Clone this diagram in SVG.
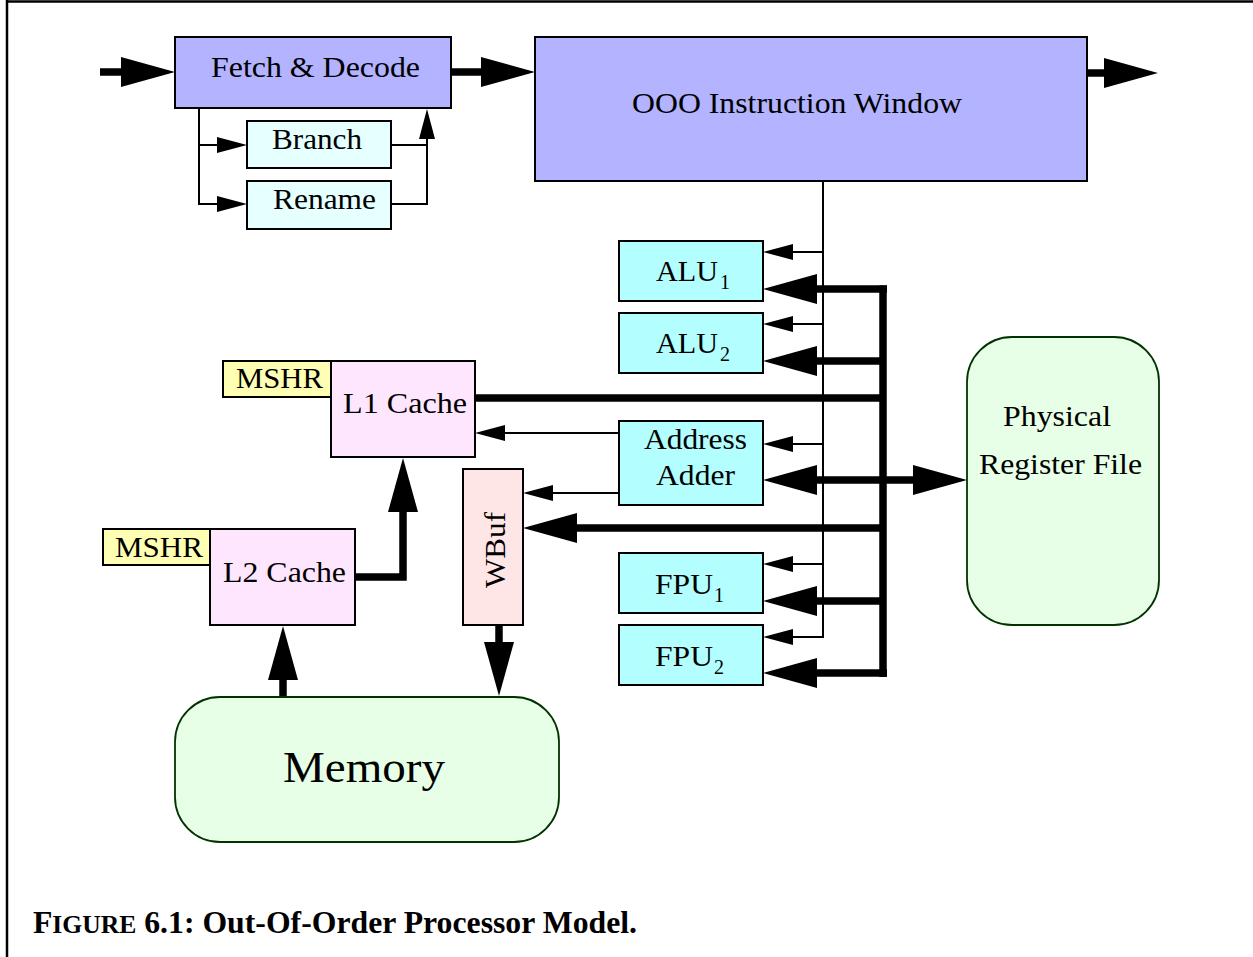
<svg xmlns="http://www.w3.org/2000/svg" xmlns:xlink="http://www.w3.org/1999/xlink" width="1253" height="957" viewBox="0 0 1253 957">
<style>
.box{stroke:#000;stroke-width:2}
.blue{fill:#b3b3ff}
.lcyan{fill:#e6ffff}
.cyan{fill:#b3ffff}
.yellow{fill:#ffffb3}
.pink{fill:#ffe6ff}
.rose{fill:#ffe6e6}
.green{fill:#e6ffe6;stroke:#003300;stroke-width:1.8}
.t{font-family:"Liberation Serif","Times New Roman",serif;font-size:29px;fill:#000}
.sub{font-family:"Liberation Serif","Times New Roman",serif;font-size:20px;fill:#000}
.thin{stroke:#000;stroke-width:2;fill:none}
.thick{stroke:#000;stroke-width:7.5;fill:none;stroke-linecap:butt;stroke-linejoin:miter}
.frame{stroke:#000;stroke-width:2.5;fill:none}
</style>
<defs>
<path id="hThin" d="M0,0 L-30,-8 L-30,8 Z" fill="#000"/>
<path id="hThick" d="M0,0 L-54,-15 L-54,15 Z" fill="#000"/>
</defs>
<rect width="1253" height="957" fill="#fff"/>
<g id="frame">
<line class="frame" x1="7" y1="0" x2="7" y2="957"/>
<line class="frame" x1="6" y1="1.5" x2="1253" y2="1.5"/>
</g>
<g id="connectors">
<line class="thick" x1="100" y1="72" x2="125" y2="72"/>
<use xlink:href="#hThick" transform="translate(175,72)"/>
<line class="thick" x1="451" y1="72" x2="485" y2="72"/>
<use xlink:href="#hThick" transform="translate(535,72)"/>
<line class="thick" x1="1087" y1="73" x2="1110" y2="73"/>
<use xlink:href="#hThick" transform="translate(1158,73)"/>
<polyline class="thin" points="199,108 199,204 220,204"/>
<line class="thin" x1="199" y1="145" x2="220" y2="145"/>
<use xlink:href="#hThin" transform="translate(247,145)"/>
<use xlink:href="#hThin" transform="translate(247,204)"/>
<line class="thin" x1="391" y1="145" x2="427" y2="145"/>
<polyline class="thin" points="391,204 427,204 427,135"/>
<use xlink:href="#hThin" transform="translate(427,109) rotate(-90)"/>
<line class="thin" x1="823" y1="181" x2="823" y2="638"/>
<line class="thin" x1="823" y1="252" x2="790" y2="252"/>
<use xlink:href="#hThin" transform="translate(763,252) rotate(180)"/>
<line class="thin" x1="823" y1="324" x2="790" y2="324"/>
<use xlink:href="#hThin" transform="translate(763,324) rotate(180)"/>
<line class="thin" x1="823" y1="444" x2="790" y2="444"/>
<use xlink:href="#hThin" transform="translate(763,444) rotate(180)"/>
<line class="thin" x1="823" y1="564" x2="790" y2="564"/>
<use xlink:href="#hThin" transform="translate(763,564) rotate(180)"/>
<line class="thin" x1="824" y1="637" x2="790" y2="637"/>
<use xlink:href="#hThin" transform="translate(763,637) rotate(180)"/>
<line class="thick" x1="883" y1="285.5" x2="883" y2="677"/>
<line class="thick" x1="887" y1="289" x2="815" y2="289"/>
<use xlink:href="#hThick" transform="translate(763,289) rotate(180)"/>
<line class="thick" x1="883" y1="361" x2="815" y2="361"/>
<use xlink:href="#hThick" transform="translate(763,361) rotate(180)"/>
<line class="thick" x1="475" y1="398" x2="883" y2="398"/>
<line class="thick" x1="815" y1="480" x2="915" y2="480"/>
<use xlink:href="#hThick" transform="translate(763,480) rotate(180)"/>
<use xlink:href="#hThick" transform="translate(967,480)"/>
<line class="thick" x1="883" y1="528" x2="575" y2="528"/>
<use xlink:href="#hThick" transform="translate(523,528) rotate(180)"/>
<line class="thick" x1="883" y1="601" x2="815" y2="601"/>
<use xlink:href="#hThick" transform="translate(763,601) rotate(180)"/>
<line class="thick" x1="887" y1="673" x2="815" y2="673"/>
<use xlink:href="#hThick" transform="translate(763,673) rotate(180)"/>
<line class="thin" x1="619" y1="433" x2="503" y2="433"/>
<use xlink:href="#hThin" transform="translate(475,433) rotate(180)"/>
<line class="thin" x1="619" y1="493" x2="551" y2="493"/>
<use xlink:href="#hThin" transform="translate(523,493) rotate(180)"/>
<line class="thick" x1="499" y1="625" x2="499" y2="647"/>
<use xlink:href="#hThick" transform="translate(499,696) rotate(90)"/>
<line class="thick" x1="283" y1="697" x2="283" y2="676"/>
<use xlink:href="#hThick" transform="translate(283,626) rotate(-90)"/>
<polyline class="thick" points="355,577 403,577 403,508"/>
<use xlink:href="#hThick" transform="translate(403,458) rotate(-90)"/>
</g>
<g id="fetch">
<rect class="box blue" x="175" y="37" width="276" height="71"/>
<text class="t" x="211" y="77" textLength="209" lengthAdjust="spacingAndGlyphs">Fetch &amp; Decode</text>
</g>
<g id="ooo">
<rect class="box blue" x="535" y="37" width="552" height="144"/>
<text class="t" x="632" y="113" textLength="330" lengthAdjust="spacingAndGlyphs">OOO Instruction Window</text>
</g>
<g id="branch">
<rect class="box lcyan" x="247" y="121" width="144" height="47"/>
<text class="t" x="272" y="149" textLength="90" lengthAdjust="spacingAndGlyphs">Branch</text>
</g>
<g id="rename">
<rect class="box lcyan" x="247" y="181" width="144" height="48"/>
<text class="t" x="273" y="209" textLength="103" lengthAdjust="spacingAndGlyphs">Rename</text>
</g>
<g id="alu1">
<rect class="box cyan" x="619" y="241" width="144" height="60"/>
<text class="t" x="656" y="281" textLength="62" lengthAdjust="spacingAndGlyphs">ALU</text>
<text class="sub" x="720" y="289">1</text>
</g>
<g id="alu2">
<rect class="box cyan" x="619" y="313" width="144" height="60"/>
<text class="t" x="656" y="353" textLength="62" lengthAdjust="spacingAndGlyphs">ALU</text>
<text class="sub" x="720" y="361">2</text>
</g>
<g id="addr">
<rect class="box cyan" x="619" y="421" width="144" height="84"/>
<text class="t" x="644" y="449" textLength="103" lengthAdjust="spacingAndGlyphs">Address</text>
<text class="t" x="656" y="485" textLength="79" lengthAdjust="spacingAndGlyphs">Adder</text>
</g>
<g id="fpu1">
<rect class="box cyan" x="619" y="553" width="144" height="60"/>
<text class="t" x="655" y="594" textLength="58" lengthAdjust="spacingAndGlyphs">FPU</text>
<text class="sub" x="714" y="602">1</text>
</g>
<g id="fpu2">
<rect class="box cyan" x="619" y="625" width="144" height="60"/>
<text class="t" x="655" y="666" textLength="58" lengthAdjust="spacingAndGlyphs">FPU</text>
<text class="sub" x="714" y="674">2</text>
</g>
<g id="l1">
<rect class="box yellow" x="223" y="361" width="108" height="36"/>
<text class="t" x="236" y="388" textLength="87" lengthAdjust="spacingAndGlyphs">MSHR</text>
<rect class="box pink" x="331" y="361" width="144" height="96"/>
<text class="t" x="343" y="413" textLength="124" lengthAdjust="spacingAndGlyphs">L1 Cache</text>
</g>
<g id="l2">
<rect class="box yellow" x="103" y="529" width="107" height="36"/>
<text class="t" x="115" y="557" textLength="88" lengthAdjust="spacingAndGlyphs">MSHR</text>
<rect class="box pink" x="210" y="529" width="145" height="96"/>
<text class="t" x="223" y="582" textLength="123" lengthAdjust="spacingAndGlyphs">L2 Cache</text>
</g>
<g id="wbuf">
<rect class="box rose" x="463" y="469" width="60" height="156"/>
<text class="t" transform="translate(505,588) rotate(-90)" x="0" y="0" textLength="76" lengthAdjust="spacingAndGlyphs">WBuf</text>
</g>
<g id="memory">
<rect class="green" x="175" y="697" width="384" height="145" rx="45" ry="45"/>
<text class="t" x="283" y="782" style="font-size:44px" textLength="162" lengthAdjust="spacingAndGlyphs">Memory</text>
</g>
<g id="regfile">
<rect class="green" x="967" y="337" width="192" height="288" rx="45" ry="45"/>
<text class="t" x="1003" y="426" textLength="108" lengthAdjust="spacingAndGlyphs">Physical</text>
<text class="t" x="979" y="474" textLength="163" lengthAdjust="spacingAndGlyphs">Register File</text>
</g>
<g id="caption">
<text x="33" y="933" style="font-family:'Liberation Serif','Times New Roman',serif;font-weight:bold;font-size:31px" textLength="604" lengthAdjust="spacingAndGlyphs">F<tspan style="font-size:25px">IGURE</tspan> 6.1: Out-Of-Order Processor Model.</text>
</g>
</svg>
